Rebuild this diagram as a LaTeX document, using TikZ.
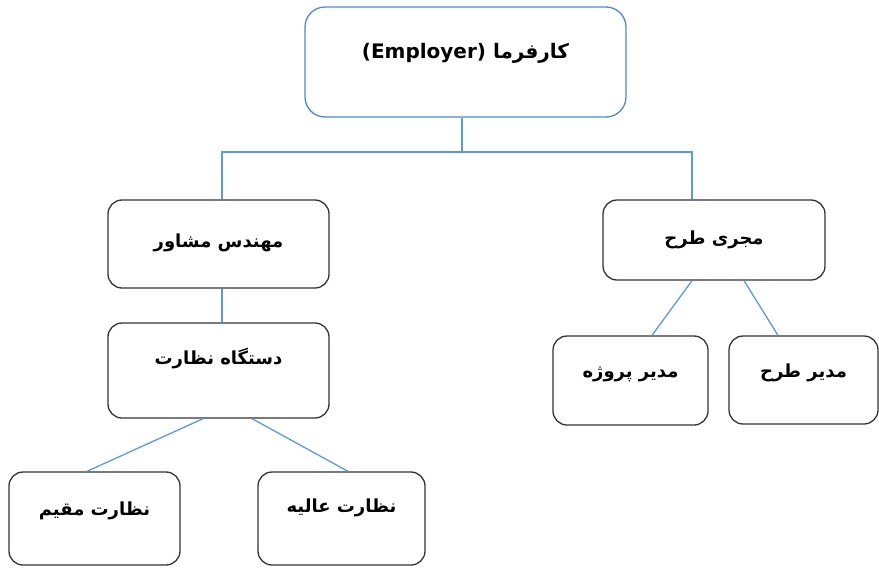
\documentclass[tikz,border=0pt]{standalone}
\usepackage{fontspec}
\newfontfamily\farsi[Script=Arabic]{DejaVu Sans}
\TeXXeTstate=1
\definecolor{linkblue}{RGB}{91,155,213}
\definecolor{topblue}{RGB}{80,135,210}
\tikzset{
    box/.style={draw=black!80, line width=1.3pt, rounded corners=14pt, inner sep=0pt,
        font=\farsi\bfseries\fontsize{18}{20}\selectfont, text height=18pt, text depth=#1},
    link/.style={draw=linkblue, line width=1.3pt}
}
\begin{document}
\begin{tikzpicture}[x=1pt,y=-1pt]
        \useasboundingbox (0,0) rectangle (879,568);
        \node[box=28pt, draw=topblue, rounded corners=20pt, font=\farsi\bfseries\fontsize{20}{22}\selectfont, text height=20pt,
            minimum width=321pt, minimum height=110pt] (emp) at (465.5,62) {\beginR کارفرما \beginL(Employer)\endL\endR};
        \node[box=12pt, minimum width=221pt, minimum height=88pt] (mosh) at (218.5,244) {\beginR مهندس مشاور\endR};
        \node[box=10pt, minimum width=222pt, minimum height=80pt] (mojri) at (714,240) {\beginR مجری طرح\endR};
        \node[box=31pt, minimum width=221pt, minimum height=95pt] (nezarat) at (218.5,370.5) {\beginR دستگاه نظارت\endR};
        \node[box=25pt, minimum width=155pt, minimum height=89pt] (modirP) at (630.5,380.5) {\beginR مدیر پروژه\endR};
        \node[box=24pt, minimum width=149pt, minimum height=88pt] (modirT) at (803.5,380) {\beginR مدیر طرح\endR};
        \node[box=25pt, minimum width=171pt, minimum height=93pt] (moqim) at (94.5,518.5) {\beginR نظارت مقیم\endR};
        \node[box=31pt, minimum width=167pt, minimum height=93pt] (alieh) at (341.5,518.5) {\beginR نظارت عالیه\endR};
        \coordinate (level) at (0,152);
        \coordinate (top) at ([xshift=-3.5pt]emp.south);
        \coordinate (bus) at (top |- level);
        \draw[link] (top) -- (bus);
        \draw[link] ([xshift=3.5pt]mosh.north) |- (bus) -| ([xshift=-22pt]mojri.north);
        \draw[link] ([xshift=3.5pt]mosh.south) -- ([xshift=3.5pt]nezarat.north);
        \draw[link] ([xshift=-22pt]mojri.south) -- ([xshift=21.5pt]modirP.north);
        \draw[link] ([xshift=30pt]mojri.south) -- ([xshift=-25.5pt]modirT.north);
        \draw[link] ([xshift=-15.5pt]nezarat.south) -- ([xshift=-7.5pt]moqim.north);
        \draw[link] ([xshift=33.5pt]nezarat.south) -- ([xshift=6.5pt]alieh.north);
    \end{tikzpicture}
\end{document}
